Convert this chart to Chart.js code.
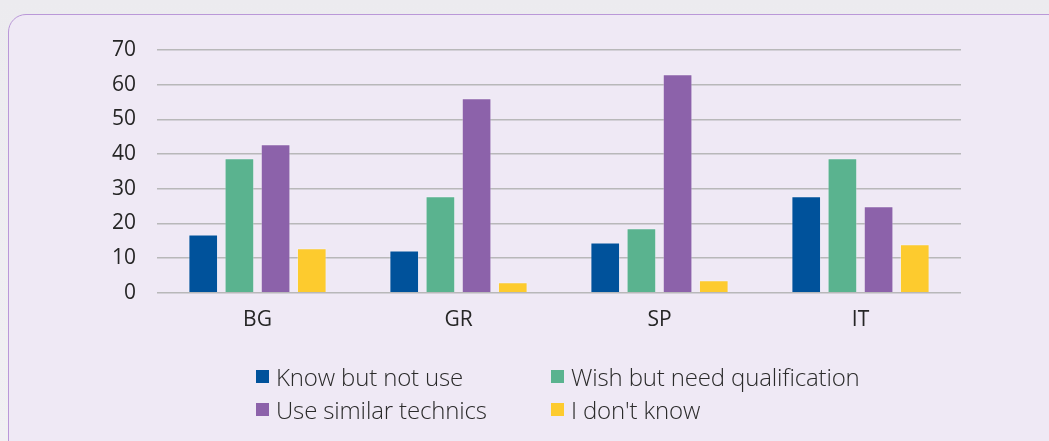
<!DOCTYPE html>
<html>
<head>
<meta charset="utf-8">
<script src="https://cdn.jsdelivr.net/npm/chart.js@4/dist/chart.umd.min.js"></script>
<style>
  html, body { margin: 0; padding: 0; }
  body { width: 1049px; height: 441px; overflow: hidden; position: relative;
         background: linear-gradient(180deg, #ecebef 0%, #f1f0f3 100%); font-family: "Open Sans", sans-serif; }
  #panel { position: absolute; left: 8px; top: 14px; width: 1100px; height: 500px;
           background: #efe9f5; border: 1px solid #ba98d8; border-radius: 18px; box-sizing: border-box; }
  #wrap { position: absolute; left: 0; top: 0; width: 1049px; height: 441px; }
  #legend { position: absolute; left: 256px; top: 363px; display: grid;
            grid-template-columns: 295px auto; row-gap: 7px; }
  .item { display: flex; align-items: center; height: 26px; font-family: "Open Sans", sans-serif;
          font-weight: 300; font-size: 24px; letter-spacing: -0.15px; color: #2a2a2a; white-space: nowrap; }
  .box { width: 13px; height: 13px; margin-right: 7px; flex: none; }
</style>
</head>
<body>
<div id="panel"></div>
<div id="wrap"><canvas id="c" width="1049" height="441"></canvas></div>
<div id="legend"></div>
<script>
const categories = ["BG", "GR", "SP", "IT"];
const seriesNames = ["Know but not use", "Wish but need qualification", "Use similar technics", "I don't know"];
const knowButNotUse = [16.8, 12.2, 14.5, 27.8];
const wishButNeedQualification = [38.8, 27.8, 18.6, 38.8];
const useSimilarTechnics = [42.8, 56.1, 63.0, 24.9];
const iDontKnow = [12.8, 3.0, 3.6, 14.0];
const yTicks = [0, 10, 20, 30, 40, 50, 60, 70];
const colors = ["#00529b", "#5ab38f", "#8c62aa", "#fdcb2e"];

const seriesValues = [knowButNotUse, wishButNeedQualification, useSimilarTechnics, iDontKnow];

const chart = new Chart(document.getElementById("c"), {
  type: "bar",
  data: {
    labels: categories,
    datasets: seriesNames.map((name, i) => ({
      label: name,
      data: seriesValues[i],
      backgroundColor: colors[i],
      borderColor: "rgba(255,255,255,0.3)",
      borderWidth: 1,
      categoryPercentage: 0.72,
      barPercentage: 0.82
    }))
  },
  options: {
    responsive: false,
    animation: false,
    devicePixelRatio: 1,
    layout: { padding: { left: 0, right: 88, top: 50, bottom: 0 } },
    plugins: { legend: { display: false }, tooltip: { enabled: false } },
    scales: {
      x: {
        grid: { display: false, drawTicks: false },
        border: { display: false },
        ticks: { color: "#262626", font: { family: "Open Sans", size: 21 }, padding: 15 },
        afterFit: s => { s.height = 441 - 292.7; }
      },
      y: {
        min: 0, max: 70,
        afterBuildTicks: s => { s.ticks = yTicks.map(v => ({ value: v })); },
        grid: { color: "#b8b8b9", lineWidth: 1.5, drawTicks: false },
        border: { display: false },
        ticks: { color: "#262626", font: { family: "Open Sans", size: 21 }, padding: 21 },
        afterFit: s => { s.width = 157; }
      }
    }
  }
});

const legend = document.getElementById("legend");
chart.data.datasets.forEach(ds => {
  const it = document.createElement("div");
  it.className = "item";
  const b = document.createElement("span");
  b.className = "box";
  b.style.background = ds.backgroundColor;
  const t = document.createElement("span");
  t.textContent = ds.label;
  it.appendChild(b); it.appendChild(t);
  legend.appendChild(it);
});
</script>
</body>
</html>
